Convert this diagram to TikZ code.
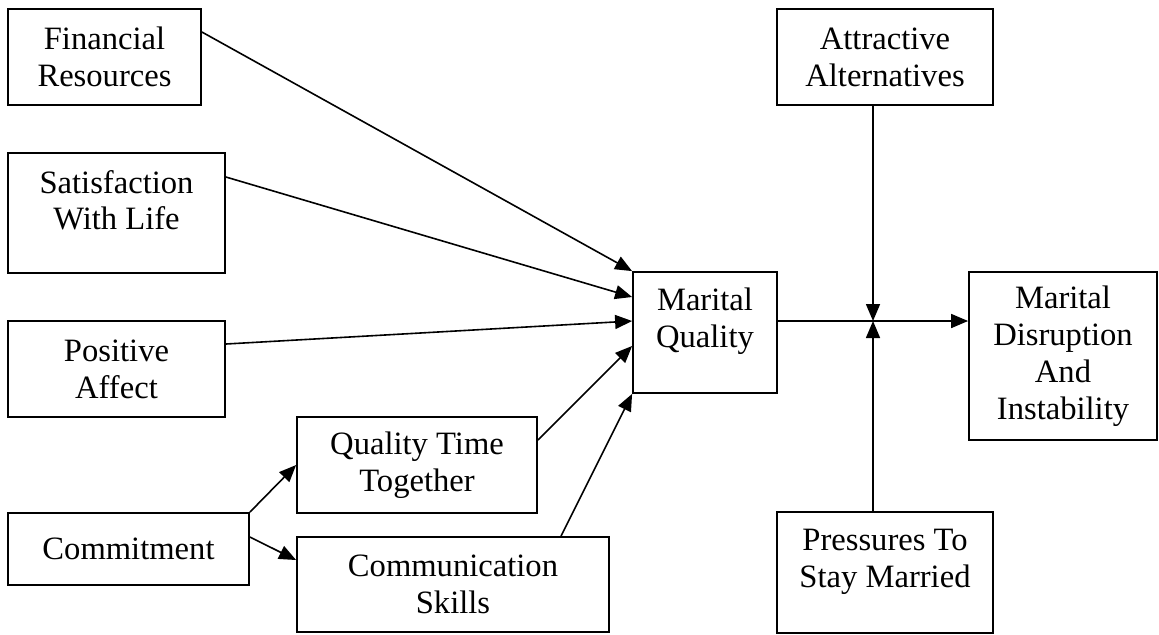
\documentclass[tikz,border=0pt]{standalone}
\usepackage{fontspec}
\setmainfont{Liberation Serif}
\usetikzlibrary{arrows.meta}
\begin{document}
\begin{tikzpicture}[x=0.5pt,y=-0.5pt]
				\tikzstyle{Box} = [rectangle, draw, line width=0.9pt, align=center, inner sep=0pt, font=\fontsize{16.3}{18.4}\selectfont]
				\tikzstyle{Arrow} = [-{Triangle[length=8.5pt,width=7pt]}, line width=0.8pt]
				\useasboundingbox (0,0) rectangle (1159,634);
				\node (fin) at (104.5,57) [Box, minimum width=96.5pt, minimum height=48pt] {Financial\\Resources};
				\node (sat) at (116.5,213) [Box, minimum width=108.5pt, minimum height=60pt, text depth=13pt] {Satisfaction\\With Life};
				\node (pos) at (116.5,369) [Box, minimum width=108.5pt, minimum height=48pt] {Positive\\Affect};
				\node (com) at (128.5,549) [Box, minimum width=120.5pt, minimum height=36pt] {Commitment};
				\node (qtt) at (417,465) [Box, minimum width=120pt, minimum height=48pt] {Quality Time\\Together};
				\node (csk) at (453,584.5) [Box, minimum width=156pt, minimum height=47.5pt] {Communication\\Skills};
				\node (mq) at (705,332.5) [Box, minimum width=72pt, minimum height=60.5pt, text depth=14.5pt] {Marital\\Quality};
				\node (alt) at (885,57) [Box, minimum width=108pt, minimum height=48pt] {Attractive\\Alternatives};
				\node (md) at (1063,356) [Box, minimum width=94pt, minimum height=84pt] {Marital\\Disruption\\And\\Instability};
				\node (pres) at (885,572.5) [Box, minimum width=108pt, minimum height=60.5pt, text depth=14.5pt] {Pressures To\\Stay Married};
				\coordinate (j) at (873,321);
				\draw [Arrow] ([yshift=12.5pt]fin.east) to (mq.north west);
				\draw [Arrow] ([yshift=18pt]sat.east) to ([yshift=17.75pt]mq.west);
				\draw [Arrow] ([yshift=12.5pt]pos.east) to ([yshift=5.75pt]mq.west);
				\draw [Arrow] ([yshift=12.5pt]qtt.east) to ([yshift=-6.75pt]mq.west);
				\draw [Arrow] ([xshift=54pt]csk.north) to (mq.south west);
				\draw [Arrow] (com.north east) to (qtt.west);
				\draw [Arrow] ([yshift=6pt]com.east) to ([yshift=12.25pt]csk.west);
				\draw [Arrow] ([yshift=5.75pt]mq.east) to ([yshift=17.5pt]md.west);
				\draw [Arrow] ([xshift=-6pt]alt.south) to (j);
				\draw [Arrow] ([xshift=-6pt]pres.north) to (j);
			\end{tikzpicture}
\end{document}
